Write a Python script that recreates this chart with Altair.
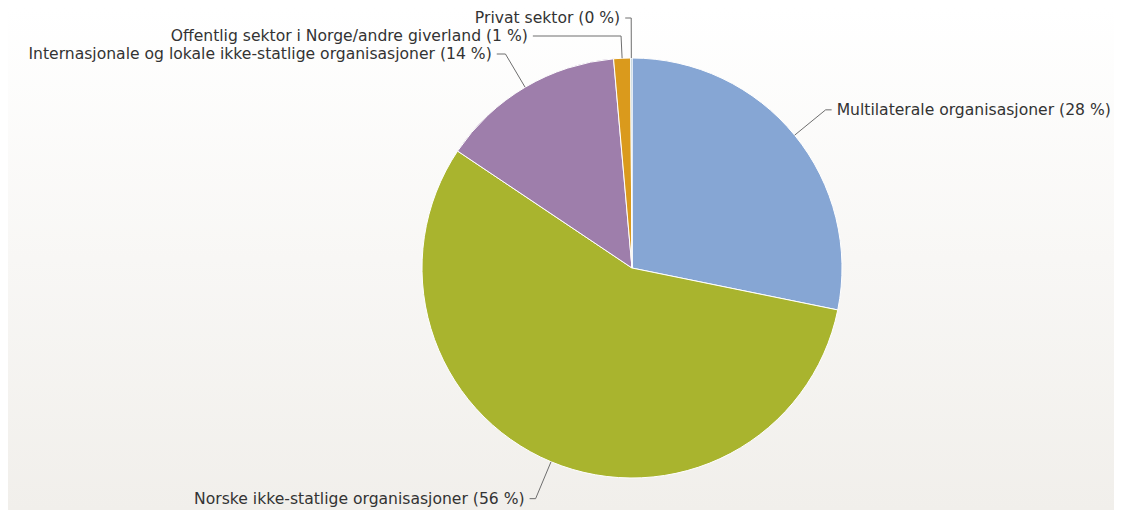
import math
import altair as alt
import pandas as pd

# ---- data ----
categories = [
    "Multilaterale organisasjoner",
    "Norske ikke-statlige organisasjoner",
    "Internasjonale og lokale ikke-statlige organisasjoner",
    "Offentlig sektor i Norge/andre giverland",
    "Privat sektor",
]
shares = [28.2, 56.2, 14.2, 1.3, 0.1]
share_labels = ["28 %", "56 %", "14 %", "1 %", "0 %"]
colors = ["#86a6d4", "#a9b42e", "#9e7eab", "#da9a1c", "#7aa3b8"]

# ---- layout ----
W, H = 1106, 502
CX, CY = 624, 260          # pie centre inside the plot area
R = 210                    # pie radius
R_LABEL = 250              # label ring
GAP = 18                   # min vertical spacing of labels

pie = pd.DataFrame({
    "cat": categories,
    "value": shares,
    "idx": list(range(len(categories))),
    "cx": [0] * len(categories),
    "cy": [0] * len(categories),
})

# label / connector geometry derived from the values
total = sum(shares)
cum = 0.0
info = []
for i, v in enumerate(shares):
    mid = (cum + v / 2) / total * 2 * math.pi
    cum += v
    s, c = math.sin(mid), math.cos(mid)
    info.append({"i": i, "s": s, "c": c, "dy": -R_LABEL * c, "right": s > 0})

for side in (True, False):
    grp = sorted([d for d in info if d["right"] == side], key=lambda d: d["dy"])
    prev = None
    for d in grp:
        if prev is not None and d["dy"] < prev + GAP:
            d["dy"] = prev + GAP
        d["dy"] = max(-R_LABEL, min(R_LABEL, d["dy"]))
        prev = d["dy"]

line_rows, text_rows = [], []
for d in info:
    i, s, c, dy = d["i"], d["s"], d["c"], d["dy"]
    sign = 1 if d["right"] else -1
    ax = sign * math.sqrt(max(R_LABEL ** 2 - dy ** 2, 0))
    px, py = R * s, -R * c
    t = -dy / c if abs(c) > 1e-6 else R_LABEL
    ex, ey = t * s, dy
    pts = [(ax + sign * 6, dy), (ex, ey), (px, py)]
    for k, (x, y) in enumerate(pts):
        line_rows.append({"key": i, "ord": k, "x": x, "y": y})
    text_rows.append({
        "x": ax + sign * 11,
        "y": dy,
        "label": f"{categories[i]} ({share_labels[i]})",
        "right": d["right"],
    })
lines = pd.DataFrame(line_rows)
texts = pd.DataFrame(text_rows)

xs = alt.Scale(domain=[-CX, W - CX], nice=False, zero=False)
ys = alt.Scale(domain=[-CY, H - CY], nice=False, zero=False, reverse=True)

bg = alt.Chart(pd.DataFrame({"a": [0]})).mark_rect(
    color=alt.Gradient(
        gradient="linear",
        stops=[alt.GradientStop(color="#ffffff", offset=0),
               alt.GradientStop(color="#f1efeb", offset=1)],
        x1=0, x2=0, y1=0, y2=1,
    )
).encode(x=alt.value(0), x2=alt.value(W), y=alt.value(0), y2=alt.value(H))

arcs = alt.Chart(pie).mark_arc(outerRadius=R, stroke="white", strokeWidth=1).encode(
    theta=alt.Theta("value:Q", stack=True),
    color=alt.Color("cat:N", scale=alt.Scale(domain=categories, range=colors), legend=None),
    order=alt.Order("idx:Q"),
    x=alt.X("cx:Q", scale=xs, axis=None),
    y=alt.Y("cy:Q", scale=ys, axis=None),
)

conn = alt.Chart(lines).mark_line(color="#6e6e6e", strokeWidth=1).encode(
    x=alt.X("x:Q", scale=xs, axis=None),
    y=alt.Y("y:Q", scale=ys, axis=None),
    detail="key:N",
    order="ord:Q",
)

font = dict(font="DejaVu Sans", fontSize=15.6, color="#333333", baseline="middle")
txt_r = alt.Chart(texts[texts["right"]]).mark_text(align="left", **font).encode(
    x=alt.X("x:Q", scale=xs, axis=None),
    y=alt.Y("y:Q", scale=ys, axis=None),
    text="label:N",
)
txt_l = alt.Chart(texts[~texts["right"]]).mark_text(align="right", **font).encode(
    x=alt.X("x:Q", scale=xs, axis=None),
    y=alt.Y("y:Q", scale=ys, axis=None),
    text="label:N",
)

chart = alt.layer(bg, arcs, conn, txt_r, txt_l).properties(
    width=W, height=H, padding=0, autosize=alt.AutoSizeParams(type="none")
).configure_view(strokeWidth=0)

chart.save("out.html", embed_options={"renderer": "svg", "actions": False})
